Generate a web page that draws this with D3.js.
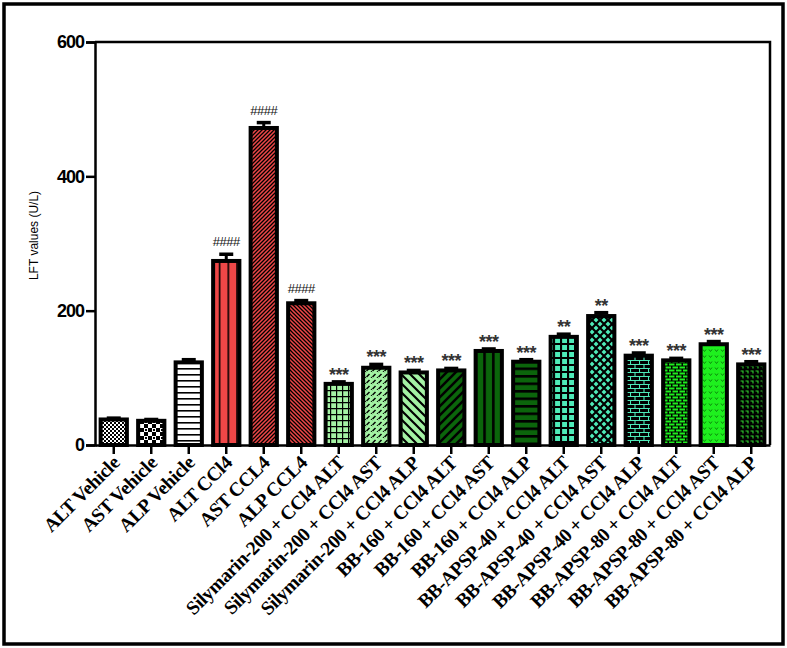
<!DOCTYPE html>
<html>
<head>
<meta charset="utf-8">
<script src="https://cdn.jsdelivr.net/npm/d3@7/dist/d3.min.js"></script>
<style>
  html, body { margin: 0; padding: 0; background: #fff; }
  svg { display: block; }
</style>
</head>
<body>
<script>
// ---- data ----
const categories = [
  "ALT Vehicle", "AST Vehicle", "ALP Vehicle",
  "ALT CCl4", "AST CCL4", "ALP CCL4",
  "Silymarin-200 + CCl4 ALT", "Silymarin-200 + CCl4 AST", "Silymarin-200 + CCl4 ALP",
  "BB-160 + CCl4 ALT", "BB-160 + CCl4 AST", "BB-160 + CCl4 ALP",
  "BB-APSP-40 + CCl4 ALT", "BB-APSP-40 + CCl4 AST", "BB-APSP-40 + CCl4 ALP",
  "BB-APSP-80 + CCl4 ALT", "BB-APSP-80 + CCl4 AST", "BB-APSP-80 + CCl4 ALP"
];
const values = [38, 36, 123, 274, 472, 211, 91, 115, 108, 111, 140, 124, 161, 192, 133, 126, 150, 120];
const errors = [2, 2, 4, 10, 8, 4, 3, 5, 3, 3, 3, 3, 4, 5, 4, 3, 4, 4];
const significance = ["", "", "", "####", "####", "####", "***", "***", "***", "***", "***", "***", "**", "**", "***", "***", "***", "***"];
const yTicks = [0, 200, 400, 600];
const yTitle = "LFT values (U/L)";

// ---- layout ----
const W = 787, H = 648;
const mLeft = 95, mRight = 770, mTop = 42, mBottom = 445;

const svg = d3.select("body").append("svg").attr("width", W).attr("height", H);
const defs = svg.append("defs");

// pattern helper
function pat(id, w, h, bg, draw) {
  const p = defs.append("pattern").attr("id", id).attr("patternUnits", "userSpaceOnUse")
    .attr("width", w).attr("height", h);
  p.append("rect").attr("width", w).attr("height", h).attr("fill", bg);
  draw(p);
}
const RED = "#ef4747", LG = "#a4f2a4", DG = "#0b650b", AQ = "#4eeab8", BG = "#1ef01e";

pat("p0", 4, 4, "#fff", p => {
  p.append("rect").attr("width", 2).attr("height", 2).attr("fill", "#000");
  p.append("rect").attr("x", 2).attr("y", 2).attr("width", 2).attr("height", 2).attr("fill", "#000");
});
pat("p1", 8, 8, "#fff", p => {
  p.append("rect").attr("width", 4).attr("height", 4).attr("fill", "#000");
  p.append("rect").attr("x", 4).attr("y", 4).attr("width", 4).attr("height", 4).attr("fill", "#000");
  p.append("rect").attr("x", 1).attr("y", 5).attr("width", 2).attr("height", 2).attr("fill", "#000");
});
pat("p2", 6, 6, "#fff", p => {
  p.append("rect").attr("y", 2).attr("width", 6).attr("height", 1.6).attr("fill", "#000");
});
pat("p3", 8.75, 10, RED, p => {
  p.append("rect").attr("x", 0).attr("width", 1.6).attr("height", 10).attr("fill", "#000");
});
pat("p4", 4, 4, RED, p => {
  p.append("path").attr("d", "M-1,1 L1,-1 M0,4 L4,0 M3,5 L5,3").attr("stroke", "#000").attr("stroke-width", 1.3);
});
pat("p5", 4, 4, RED, p => {
  p.append("path").attr("d", "M-1,3 L1,5 M0,0 L4,4 M3,-1 L5,1").attr("stroke", "#000").attr("stroke-width", 1.3);
});
pat("p6", 6, 6, LG, p => {
  p.append("path").attr("d", "M0,0.5 H6 M0.5,0 V6").attr("stroke", "#000").attr("stroke-width", 1.4);
});
pat("p7", 6, 6, LG, p => {
  p.append("path").attr("d", "M0.5,5 L3.5,2 M3.5,8 L6.5,5 M-2.5,2 L0.5,-1").attr("stroke", "#000").attr("stroke-width", 1.5);
});
pat("p8", 9, 9, LG, p => {
  p.append("path").attr("d", "M-2,7 L2,11 M0,0 L9,9 M7,-2 L11,2").attr("stroke", "#000").attr("stroke-width", 2.2);
});
pat("p9", 9, 9, DG, p => {
  p.append("path").attr("d", "M-2,2 L2,-2 M0,9 L9,0 M7,11 L11,7").attr("stroke", "#000").attr("stroke-width", 2.6);
});
pat("p10", 8.75, 10, DG, p => {
  p.append("rect").attr("x", 2).attr("width", 2.6).attr("height", 10).attr("fill", "#000");
});
pat("p11", 10, 7.5, DG, p => {
  p.append("rect").attr("y", 0).attr("width", 10).attr("height", 2.6).attr("fill", "#000");
});
pat("p12", 7, 7, AQ, p => {
  p.append("path").attr("d", "M0,1 H7 M1,0 V7").attr("stroke", "#000").attr("stroke-width", 2.2);
});
pat("p13", 8, 8, AQ, p => {
  p.append("path").attr("d", "M0,0 L8,8 M8,0 L0,8").attr("stroke", "#000").attr("stroke-width", 2.2);
});
pat("p14", 9, 8, "#000", p => {
  p.append("path").attr("d", "M0,0.5 H9 M0,4.5 H9 M0.5,0.5 V4.5 M5,4.5 V8.5").attr("stroke", AQ).attr("stroke-width", 1.1).attr("fill", "none");
});
pat("p15", 7, 6, "#000", p => {
  p.append("rect").attr("x", 0.5).attr("y", 0.5).attr("width", 5.5).attr("height", 2).attr("fill", BG);
  p.append("rect").attr("x", -3).attr("y", 3.5).attr("width", 5.5).attr("height", 2).attr("fill", BG);
  p.append("rect").attr("x", 4).attr("y", 3.5).attr("width", 5.5).attr("height", 2).attr("fill", BG);
});
pat("p16", 6, 6, BG, p => {
  p.append("path").attr("d", "M1,1.5 L2.5,3.5 L4,1.5").attr("stroke", "#0a8a0a").attr("stroke-width", 1).attr("fill", "none");
});
pat("p17", 5, 5, "#000", p => {
  p.append("path").attr("d", "M0.5,1 H3 V3.5").attr("stroke", "#2fd02f").attr("stroke-width", 1.1).attr("fill", "none");
});

// ---- scales ----
const x = d3.scaleBand().domain(categories).range([mLeft, mRight]).paddingInner(0.3).paddingOuter(0.15);
const y = d3.scaleLinear().domain([0, 600]).range([mBottom, mTop]);

// outer frame
svg.append("rect").attr("x", 4).attr("y", 4).attr("width", W - 8).attr("height", H - 8)
  .attr("fill", "none").attr("stroke", "#000").attr("stroke-width", 3.5);

// plot box top/right lines
svg.append("path").attr("d", `M${mLeft},${mTop} H${mRight} V${mBottom}`)
  .attr("fill", "none").attr("stroke", "#000").attr("stroke-width", 2.5);

const data = categories.map((c, i) => ({ c, v: values[i], e: errors[i], s: significance[i], i }));

// bars
svg.append("g").selectAll("rect").data(data).join("rect")
  .attr("x", d => x(d.c))
  .attr("y", d => y(d.v))
  .attr("width", x.bandwidth())
  .attr("height", d => y(0) - y(d.v))
  .attr("fill", d => `url(#p${d.i})`)
  .attr("stroke", "#000").attr("stroke-width", 4);

// error bars
const eb = svg.append("g");
data.forEach(d => {
  const cx = x(d.c) + x.bandwidth() / 2;
  eb.append("line").attr("x1", cx).attr("x2", cx).attr("y1", y(d.v)).attr("y2", y(d.v + d.e))
    .attr("stroke", "#000").attr("stroke-width", 3);
  eb.append("line").attr("x1", cx - 7).attr("x2", cx + 7).attr("y1", y(d.v + d.e)).attr("y2", y(d.v + d.e))
    .attr("stroke", "#000").attr("stroke-width", 3.5);
});

// significance labels
svg.append("g").selectAll("text").data(data.filter(d => d.s)).join("text")
  .attr("x", d => x(d.c) + x.bandwidth() / 2)
  .attr("y", d => d.s.startsWith("#") ? y(d.v + d.e) - 8 : y(d.v + d.e) - 1)
  .attr("text-anchor", "middle")
  .attr("font-family", "Liberation Sans, Arial, sans-serif")
  .attr("font-weight", d => d.s.startsWith("#") ? "normal" : "bold")
  .attr("font-size", d => d.s.startsWith("#") ? 13 : 18)
  .attr("letter-spacing", d => d.s.startsWith("#") ? "-0.5px" : "-0.5px")
  .attr("fill", d => d.s.startsWith("#") ? "#111" : "#333")
  .text(d => d.s);

// y axis
const yAxis = svg.append("g").attr("transform", `translate(${mLeft},0)`)
  .call(d3.axisLeft(y).tickValues(yTicks).tickSize(9).tickPadding(2).tickFormat(d3.format("d")));
yAxis.select(".domain").attr("stroke-width", 2.5);
yAxis.selectAll(".tick line").attr("stroke-width", 2.5);
yAxis.selectAll(".tick text").attr("font-family", "Liberation Sans, Arial, sans-serif")
  .attr("font-weight", "bold").attr("font-size", 18).attr("letter-spacing", "-1px").attr("fill", "#000");

// x axis
const xAxis = svg.append("g").attr("transform", `translate(0,${mBottom})`)
  .call(d3.axisBottom(x).tickSize(9).tickSizeOuter(0));
xAxis.select(".domain").attr("stroke-width", 2.5);
xAxis.selectAll(".tick line").attr("stroke-width", 2.5);
xAxis.selectAll(".tick text")
  .attr("font-family", "Liberation Serif, 'Times New Roman', serif")
  .attr("font-weight", "bold").attr("font-size", 19.5).attr("letter-spacing", "-0.4px")
  .attr("fill", "#000")
  .attr("text-anchor", "end")
  .attr("dy", 0)
  .attr("transform", "translate(7,19) rotate(-45)")
  .attr("y", 0).attr("x", 0);

// y title
svg.append("text")
  .attr("transform", `translate(38,${(mTop + mBottom) / 2 - 8}) rotate(-90)`)
  .attr("text-anchor", "middle")
  .attr("font-family", "Liberation Sans, Arial, sans-serif")
  .attr("font-size", 12)
  .text(yTitle);
</script>
</body>
</html>
